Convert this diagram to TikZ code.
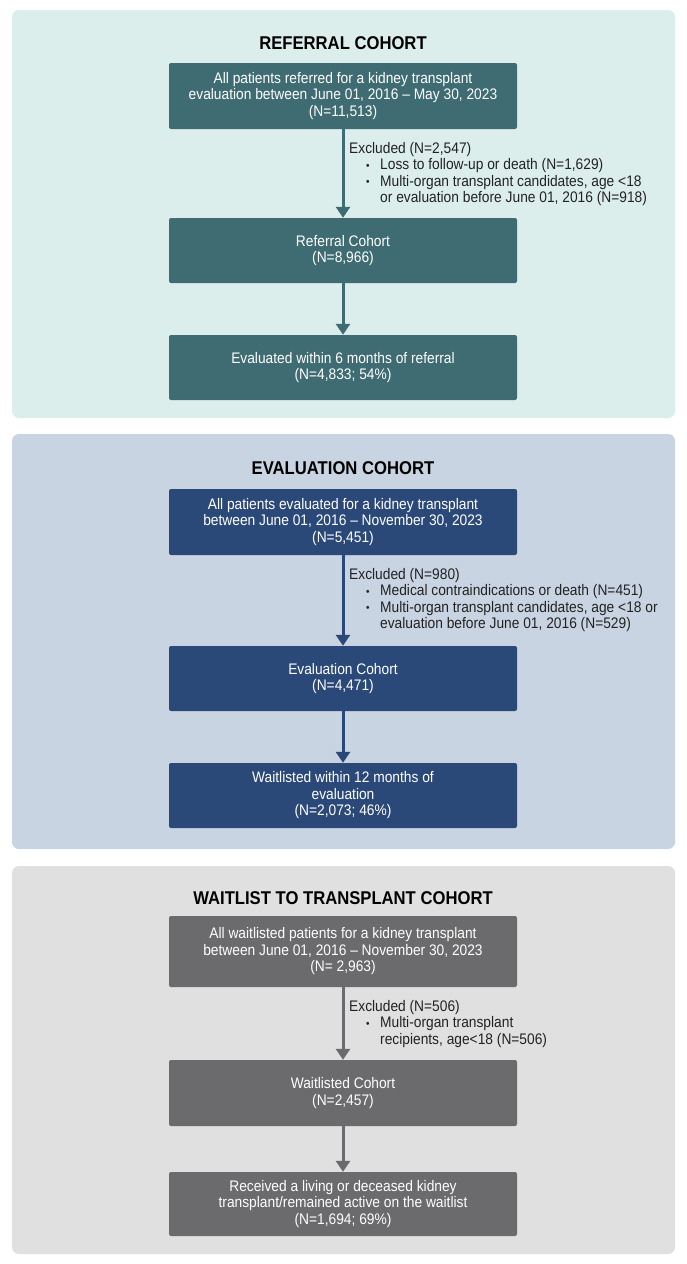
\documentclass[tikz,border=0pt]{standalone}
\usepackage{fontspec}
\setmainfont{Liberation Sans}[FakeStretch=0.9]
\usetikzlibrary{arrows.meta}
\definecolor{bgA}{RGB}{220,238,236}
\definecolor{bxA}{RGB}{62,108,114}
\definecolor{bgB}{RGB}{200,212,225}
\definecolor{bxB}{RGB}{43,73,120}
\definecolor{bgC}{RGB}{224,224,224}
\definecolor{bxC}{RGB}{107,107,110}
\definecolor{extxt}{RGB}{34,34,34}
\newcommand{\myexitem}[1]{\hbox{\hspace*{17pt}\makebox[14pt][l]{\raisebox{0.5pt}{\fontsize{11}{11}\selectfont\textbullet}}#1}}
\newcommand{\myexcont}[1]{\hbox{\hspace*{31pt}#1}}
\tikzset{
  panel/.style={rounded corners=7pt, fill=#1, draw=none},
  cbox/.style={fill=#1, rounded corners=2pt, minimum width=348pt, text=white, align=center,
    font=\fontsize{15.3}{16.5}\selectfont, inner sep=0pt},
  ttl/.style={font=\bfseries\fontsize{18.5}{20}\selectfont, text=black, inner sep=0pt},
  flow/.style={draw=#1, line width=3pt, -{Triangle[width=14pt,length=11pt,fill=#1]}},
  excl/.style={anchor=base west, inner sep=0pt, text=extxt, font=\fontsize{15.3}{16.5}\selectfont}
}
\begin{document}
\begin{tikzpicture}[x=1pt,y=-1pt]
\useasboundingbox (0,0) rectangle (686,1264);
\fill[white] (0,0) rectangle (686,1264);
% panels
\fill[panel=bgA] (12,10) rectangle (675,418);
\fill[panel=bgB] (12,434) rectangle (675,849);
\fill[panel=bgC] (12,866) rectangle (675,1254);

% ---------- Panel 1
\node[ttl] (t1) at (343,43) {REFERRAL COHORT};
\node[cbox=bxA, minimum height=66pt] (a1) at (343,96) {All patients referred for a kidney transplant\\evaluation between June 01, 2016 -- May 30, 2023\\(N=11,513)};
\node[cbox=bxA, minimum height=65pt] (a2) at (343,250.5) {Referral Cohort\\(N=8,966)};
\node[cbox=bxA, minimum height=65pt] (a3) at (343,367.5) {Evaluated within 6 months of referral\\(N=4,833; 54\%)};
\draw[flow=bxA] (a1.south) -- (a2.north);
\draw[flow=bxA] (a2.south) -- (a3.north);
\node[excl] (e1) at (349,153) {\vtop{\baselineskip=16.5pt
  \hbox{Excluded (N=2,547)}
  \myexitem{Loss to follow-up or death (N=1,629)}
  \myexitem{Multi-organ transplant candidates, age <18}
  \myexcont{or evaluation before June 01, 2016 (N=918)}}};

% ---------- Panel 2
\node[ttl] (t2) at (343,468) {EVALUATION COHORT};
\node[cbox=bxB, minimum height=66pt] (b1) at (343,522) {All patients evaluated for a kidney transplant\\between June 01, 2016 -- November 30, 2023\\(N=5,451)};
\node[cbox=bxB, minimum height=65pt] (b2) at (343,678.5) {Evaluation Cohort\\(N=4,471)};
\node[cbox=bxB, minimum height=65pt] (b3) at (343,795.5) {Waitlisted within 12 months of\\evaluation\\(N=2,073; 46\%)};
\draw[flow=bxB] (b1.south) -- (b2.north);
\draw[flow=bxB] (b2.south) -- (b3.north);
\node[excl] (e2) at (349,579) {\vtop{\baselineskip=16.5pt
  \hbox{Excluded (N=980)}
  \myexitem{Medical contraindications or death (N=451)}
  \myexitem{Multi-organ transplant candidates, age <18 or}
  \myexcont{evaluation before June 01, 2016 (N=529)}}};

% ---------- Panel 3
\node[ttl] (t3) at (343,898) {WAITLIST TO TRANSPLANT COHORT};
\node[cbox=bxC, minimum height=71pt] (c1) at (343,951.5) {All waitlisted patients for a kidney transplant\\between June 01, 2016 -- November 30, 2023\\(N= 2,963)};
\node[cbox=bxC, minimum height=66pt] (c2) at (343,1093) {Waitlisted Cohort\\(N=2,457)};
\node[cbox=bxC, minimum height=64pt] (c3) at (343,1204) {Received a living or deceased kidney\\transplant/remained active on the waitlist\\(N=1,694; 69\%)};
\draw[flow=bxC] (c1.south) -- (c2.north);
\draw[flow=bxC] (c2.south) -- (c3.north);
\node[excl] (e3) at (349,1011) {\vtop{\baselineskip=16.5pt
  \hbox{Excluded (N=506)}
  \myexitem{Multi-organ transplant}
  \myexcont{recipients, age<18 (N=506)}}};
\end{tikzpicture}
\end{document}
